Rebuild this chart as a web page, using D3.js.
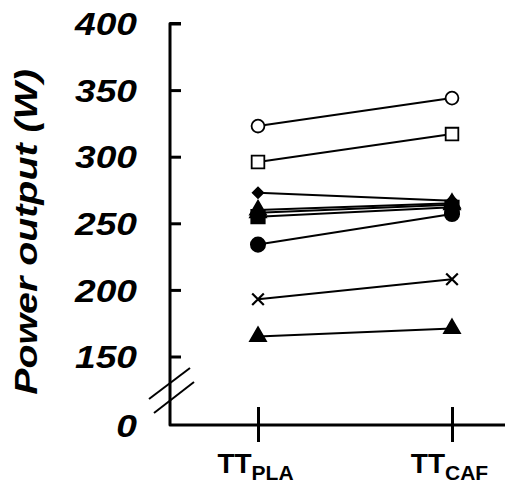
<!DOCTYPE html>
<html>
<head>
<meta charset="utf-8">
<script src="https://cdn.jsdelivr.net/npm/d3@7"></script>
<style>
  body { margin: 0; background: #fff; }
  text { font-family: "Liberation Sans", Arial, sans-serif; font-weight: bold; }
</style>
</head>
<body>
<div id="chart"></div>
<script>
var width = 505;
var height = 488;

// data
var conditions = ["PLA", "CAF"];
var plaValues = [323, 296, 273, 260, 258, 255, 234, 193, 165];
var cafValues = [344, 317, 267, 265, 264, 262, 257, 208, 171];
var markers = ["open-circle", "open-square", "diamond", "triangle", "triangle", "square", "circle", "cross", "triangle"];
var yTicks = [150, 200, 250, 300, 350, 400];

var axisX = 170;
var baseY = 425;

var svg = d3.select("#chart")
            .append("svg")
            .attr("width", width)
            .attr("height", height);

var y = d3.scaleLinear()
            .domain([150, 400])
            .range([356.5, 23.5]);

// lower part below the break, only holds the 0
var yLow = d3.scaleLinear()
            .domain([0, 150])
            .range([baseY, 356.5]);

var x = d3.scalePoint()
            .domain(conditions)
            .range([258, 452]);

// spine of both axes
svg.append("path")
    .attr("d", "M" + (axisX + 11) + "," + y(400) + "H" + axisX + "V" + baseY + "H" + width)
    .attr("fill", "none")
    .attr("stroke", "black")
    .attr("stroke-width", 3)
    .attr("stroke-linejoin", "round");

var yAxis = svg.append("g")
            .attr("transform", "translate(" + axisX + ",0)")
            .call(d3.axisLeft(y).tickValues(yTicks).tickSizeInner(-11).tickSizeOuter(0));
yAxis.select(".domain").remove();

var yAxisLow = svg.append("g")
            .attr("transform", "translate(" + axisX + ",0)")
            .call(d3.axisLeft(yLow).tickValues([0]).tickSize(0));
yAxisLow.select(".domain").remove();

svg.selectAll(".tick line")
    .attr("stroke", "black")
    .attr("stroke-width", 3);

svg.selectAll(".tick text")
    .attr("x", -33 / 1.2)
    .attr("dy", "0.36em")
    .attr("transform", "scale(1.2,1)")
    .style("text-anchor", "end")
    .style("font-family", "'Liberation Sans', Arial, sans-serif")
    .style("font-weight", "bold")
    .style("font-style", "italic")
    .style("font-size", "31px")
    .attr("fill", "black");

// axis break
var breakY = 390;
[[-21, 9, 20, -22], [-16, 23, 24, -8]].forEach(function(d) {
    svg.append("line")
        .attr("x1", axisX + d[0]).attr("y1", breakY + d[1])
        .attr("x2", axisX + d[2]).attr("y2", breakY + d[3])
        .attr("stroke", "black")
        .attr("stroke-width", 2);
});

// x axis ticks
var xAxis = svg.append("g")
            .attr("transform", "translate(0," + (baseY - 18) + ")")
            .call(d3.axisBottom(x).tickSize(35).tickFormat(""));
xAxis.select(".domain").remove();
xAxis.selectAll(".tick line")
    .attr("stroke", "black")
    .attr("stroke-width", 3);

var xLabel = xAxis.selectAll(".tick")
            .append("text")
            .attr("y", 66)
            .attr("x", -3)
            .attr("fill", "black")
            .style("text-anchor", "middle");
xLabel.append("tspan")
    .style("font-size", "28px")
    .text("TT");
xLabel.append("tspan")
    .attr("dy", 7)
    .style("font-size", "21px")
    .text(d => d);

// y axis title
svg.append("text")
    .attr("transform", "translate(37,232) rotate(-90) scale(1.27,1)")
    .style("text-anchor", "middle")
    .style("font-style", "italic")
    .style("font-size", "31px")
    .attr("fill", "black")
    .text("Power output (W)");

// subject lines
var subjects = plaValues.map((v, i) => ({
    values: [{c: "PLA", v: v}, {c: "CAF", v: cafValues[i]}],
    marker: markers[i]
}));

var lineGenerator = d3.line()
                        .x(d => x(d.c))
                        .y(d => y(d.v));

svg.append("g")
    .selectAll("path")
    .data(subjects)
    .join("path")
    .attr("d", d => lineGenerator(d.values))
    .attr("stroke", "black")
    .attr("stroke-width", 2)
    .attr("fill", "none");

var symbolType = {
    "open-circle": d3.symbolCircle,
    "circle": d3.symbolCircle,
    "open-square": d3.symbolSquare,
    "square": d3.symbolSquare,
    "diamond": d3.symbolSquare,
    "triangle": d3.symbolTriangle,
    "cross": d3.symbolX
};
var symbolSize = {
    "open-circle": 130,
    "circle": 160,
    "open-square": 160,
    "square": 180,
    "diamond": 55,
    "triangle": 110,
    "cross": 90
};

var points = subjects.flatMap(s => s.values.map(p => ({c: p.c, v: p.v, marker: s.marker})));
// filled squares on top of the triangles, as in the picture
points.sort((a, b) => (a.marker === "square") - (b.marker === "square"));

svg.append("g")
    .selectAll("path")
    .data(points)
    .join("path")
    .attr("transform", d => "translate(" + x(d.c) + "," + y(d.v) + ")" + (d.marker === "diamond" ? " rotate(45)" : ""))
    .attr("d", d => d3.symbol().type(symbolType[d.marker]).size(symbolSize[d.marker])())
    .attr("fill", d => d.marker.startsWith("open") ? "white" : (d.marker === "cross" ? "none" : "black"))
    .attr("stroke", "black")
    .attr("stroke-width", d => d.marker === "cross" ? 2.2 : 1.8);
</script>
</body>
</html>
